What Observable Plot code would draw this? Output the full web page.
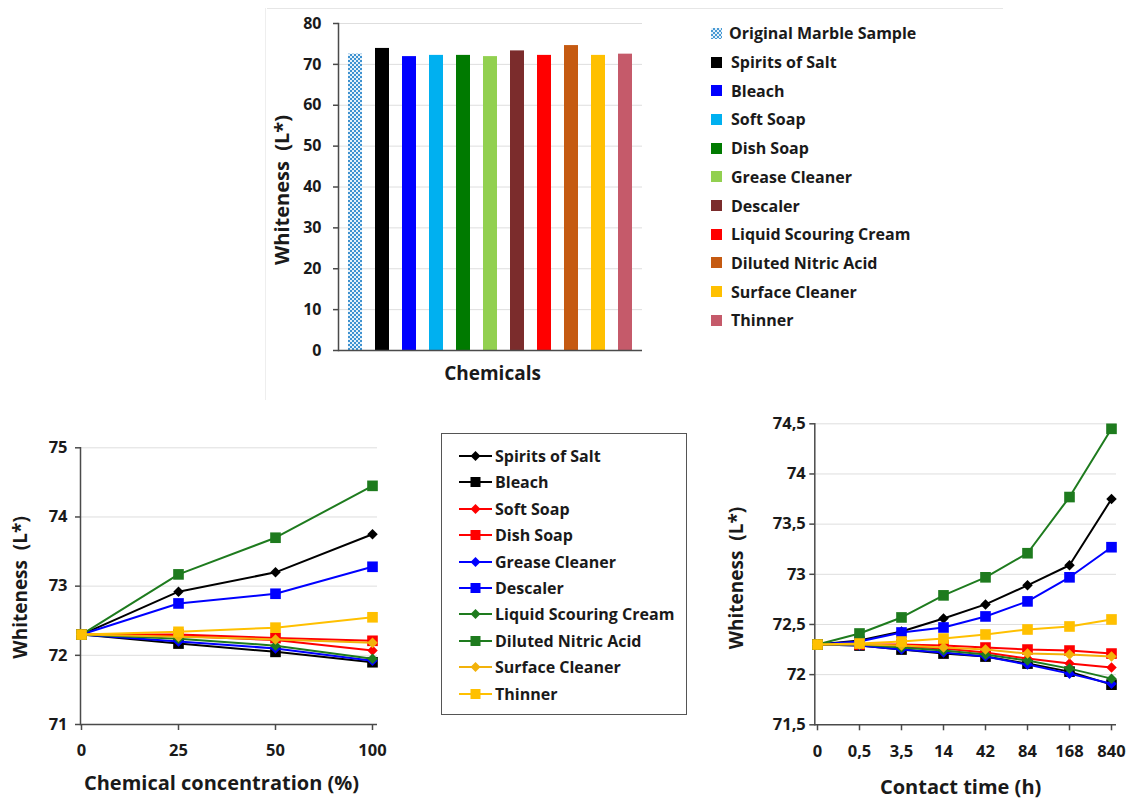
<!DOCTYPE html>
<html>
<head>
<meta charset="utf-8">
<script src="https://cdn.jsdelivr.net/npm/d3@7"></script>
<script src="https://cdn.jsdelivr.net/npm/@observablehq/plot@0.6"></script>
<style>
  html, body { margin: 0; padding: 0; background: #fff; }
  #root { position: relative; width: 1137px; height: 800px; overflow: hidden; background: #fff;
          font-family: "Open Sans", Lato, "DejaVu Sans", sans-serif; color: #1a1a1a; }
  .abs { position: absolute; }
  .leg-row { position: absolute; display: flex; align-items: center; white-space: nowrap;
             font-weight: 700; font-size: 16px; line-height: 1; }
</style>
</head>
<body>
<div id="root"></div>
<script>
// ---------------- DATA ----------------
const barChemicals = ["Original Marble Sample", "Spirits of Salt", "Bleach", "Soft Soap", "Dish Soap",
  "Grease Cleaner", "Descaler", "Liquid Scouring Cream", "Diluted Nitric Acid", "Surface Cleaner", "Thinner"];
const barWhiteness = [72.5, 73.9, 71.9, 72.2, 72.2, 71.9, 73.3, 72.2, 74.6, 72.2, 72.5];
const barColors = ["url(#marble)", "#000000", "#0000ff", "#00b0f0", "#007a00", "#92d050",
  "#7b2c2c", "#ff0000", "#c55a11", "#ffc000", "#c55a6a"];
const barTicks = [0, 10, 20, 30, 40, 50, 60, 70, 80];

const lineSeries = ["Spirits of Salt", "Bleach", "Soft Soap", "Dish Soap", "Grease Cleaner", "Descaler",
  "Liquid Scouring Cream", "Diluted Nitric Acid", "Surface Cleaner", "Thinner"];
const lineColors = ["#000000", "#000000", "#ff0000", "#ff0000", "#0000ff", "#0000ff",
  "#1e7b1e", "#1e7b1e", "#f2b20a", "#ffc000"];
const lineMarkers = ["diamond", "square", "diamond", "square", "diamond", "square",
  "diamond", "square", "diamond", "square"];

const concentrationLabels = ["0", "25", "50", "100"];
const concentrationWhiteness = [
  [72.3, 72.92, 73.2, 73.75],   // Spirits of Salt
  [72.3, 72.17, 72.05, 71.9],   // Bleach
  [72.3, 72.28, 72.22, 72.07],  // Soft Soap
  [72.3, 72.3, 72.25, 72.21],   // Dish Soap
  [72.3, 72.2, 72.1, 71.92],    // Grease Cleaner
  [72.3, 72.75, 72.89, 73.28],  // Descaler
  [72.3, 72.24, 72.14, 71.95],  // Liquid Scouring Cream
  [72.3, 73.17, 73.7, 74.45],   // Diluted Nitric Acid
  [72.3, 72.27, 72.23, 72.18],  // Surface Cleaner
  [72.3, 72.34, 72.4, 72.55]    // Thinner
];
const concentrationTicks = [71, 72, 73, 74, 75];

const timeLabels = ["0", "0,5", "3,5", "14", "42", "84", "168", "840"];
const timeWhiteness = [
  [72.3, 72.34, 72.43, 72.56, 72.7, 72.89, 73.09, 73.75],   // Spirits of Salt
  [72.3, 72.29, 72.25, 72.21, 72.18, 72.11, 72.03, 71.9],   // Bleach
  [72.3, 72.3, 72.28, 72.26, 72.22, 72.16, 72.11, 72.07],   // Soft Soap
  [72.3, 72.3, 72.3, 72.29, 72.27, 72.25, 72.24, 72.21],    // Dish Soap
  [72.3, 72.29, 72.25, 72.22, 72.18, 72.1, 72.01, 71.91],   // Grease Cleaner
  [72.3, 72.33, 72.42, 72.47, 72.58, 72.73, 72.97, 73.27],  // Descaler
  [72.3, 72.3, 72.27, 72.24, 72.2, 72.14, 72.06, 71.96],    // Liquid Scouring Cream
  [72.3, 72.41, 72.57, 72.79, 72.97, 73.21, 73.77, 74.45],  // Diluted Nitric Acid
  [72.3, 72.3, 72.29, 72.27, 72.25, 72.21, 72.2, 72.18],    // Surface Cleaner
  [72.3, 72.31, 72.33, 72.36, 72.4, 72.45, 72.48, 72.55]    // Thinner
];
const timeTicks = [71.5, 72, 72.5, 73, 73.5, 74, 74.5];

// ---------------- STYLE ----------------
const FONT = "'Open Sans', Lato, 'DejaVu Sans', sans-serif";
const TEXT = "#1a1a1a";
const AXIS = "#4a4a4a";
const GRID = "#dedede";

const diamondSymbol = {
  draw(ctx, size) {
    const s = Math.sqrt(size / 2);
    ctx.moveTo(0, -s); ctx.lineTo(s, 0); ctx.lineTo(0, s); ctx.lineTo(-s, 0); ctx.closePath();
  }
};

const root = document.getElementById("root");

function place(node, left, top) {
  node.classList.add("abs");
  node.style.left = left + "px";
  node.style.top = top + "px";
  root.appendChild(node);
  return node;
}

// faint frame lines of the top panel
function faintLine(left, top, w, h, color) {
  const d = document.createElement("div");
  d.style.width = w + "px"; d.style.height = h + "px"; d.style.background = color;
  place(d, left, top);
}
faintLine(267, 8, 736, 1, "#e6e6e6");
faintLine(265, 8, 1, 392, "#eeeeee");

// ---------------- BAR CHART ----------------
const barRows = barChemicals.map((name, i) => ({name, value: barWhiteness[i], color: barColors[i]}));
const barPlot = Plot.plot({
  width: 420, height: 400,
  marginLeft: 78, marginRight: 38, marginTop: 23, marginBottom: 50,
  style: {fontFamily: FONT, background: "transparent", overflow: "visible"},
  x: {domain: barChemicals, paddingInner: 0.48, paddingOuter: 0.24, insetLeft: 3.4, insetRight: 2.4, axis: null},
  y: {domain: [0, 80]},
  color: {type: "identity"},
  marks: [
    Plot.gridY(barTicks.slice(1), {stroke: GRID, strokeOpacity: 1}),
    Plot.barY(barRows, {x: "name", y: "value", fill: "color"}),
    Plot.ruleY([0], {stroke: AXIS, strokeWidth: 1.5}),
    Plot.frame({anchor: "left", stroke: AXIS, strokeWidth: 1.5}),
    Plot.axisY({ticks: barTicks, tickSize: 5, tickPadding: 12, stroke: AXIS, strokeWidth: 1.5,
      fill: TEXT, fontSize: 16, fontWeight: 700, label: null}),
    Plot.text(["Chemicals"], {text: d => d, frameAnchor: "bottom", dx: 2, dy: 23,
      textAnchor: "middle", lineAnchor: "middle", fontSize: 19, fontWeight: 700, fill: TEXT}),
    Plot.text(["Whiteness  (L*)"], {text: d => d, frameAnchor: "left", dx: -56, dy: 3, rotate: -90,
      textAnchor: "middle", lineAnchor: "middle", fontSize: 20, fontWeight: 700, fill: TEXT})
  ]
});
d3.select(barPlot).insert("defs", ":first-child").html(
  `<pattern id="marble" width="4" height="4" patternUnits="userSpaceOnUse">
     <rect width="4" height="4" fill="#e4f1fa"></rect>
     <rect width="2" height="2" fill="#3f92d0"></rect>
     <rect x="2" y="2" width="2" height="2" fill="#3f92d0"></rect>
   </pattern>`);
place(barPlot, 260, 0);

// ---------------- TOP LEGEND ----------------
barChemicals.forEach((name, i) => {
  const row = document.createElement("div");
  row.className = "leg-row";
  const sw = document.createElement("span");
  sw.style.cssText = "display:inline-block;width:11px;height:11px;margin-right:" + (i === 0 ? 7 : 9) + "px;";
  if (i === 0) {
    sw.style.background = "repeating-conic-gradient(#4a9ad4 0 25%, #e4f1fa 0 50%) 0 0 / 4px 4px";
  } else {
    sw.style.background = barColors[i];
  }
  row.appendChild(sw);
  const t = document.createElement("span");
  t.textContent = name;
  row.appendChild(t);
  place(row, 711, 33.3 + i * 28.7 - 8);
});

// ---------------- LINE CHARTS ----------------
function lineChart(o) {
  const marks = [
    Plot.gridY(o.yTicks.slice(1), {stroke: GRID, strokeOpacity: 1}),
    Plot.ruleY([o.yTicks[0]], {stroke: AXIS, strokeWidth: 1.5}),
    Plot.frame({anchor: "left", stroke: AXIS, strokeWidth: 1.5}),
    Plot.axisY({ticks: o.yTicks, tickSize: 5, tickPadding: o.tickPadY, tickFormat: o.yFormat,
      stroke: AXIS, strokeWidth: 1.5, fill: TEXT, fontSize: 16.5, fontWeight: 700, label: null}),
    Plot.axisX({tickSize: 6, tickPadding: 14, stroke: AXIS, strokeWidth: 1.5,
      fill: TEXT, fontSize: 16.5, fontWeight: 700, label: null})
  ];
  lineSeries.forEach((s, i) => {
    const rows = o.xLabels.map((x, j) => ({x, y: o.values[i][j]}));
    const isDiamond = lineMarkers[i] === "diamond";
    marks.push(Plot.line(rows, {x: "x", y: "y", stroke: lineColors[i], strokeWidth: 2}));
    marks.push(Plot.dot(rows, {x: "x", y: "y", fill: lineColors[i], stroke: "none",
      symbol: isDiamond ? diamondSymbol : "square", r: isDiamond ? 4.2 : 6}));
  });
  marks.push(Plot.text([o.xTitle], {text: d => d, frameAnchor: "bottom", dx: o.xTitleDx, dy: o.xTitleDy,
    textAnchor: "middle", lineAnchor: "middle", fontSize: 20, fontWeight: 700, fill: TEXT}));
  marks.push(Plot.text(["Whiteness  (L*)"], {text: d => d, frameAnchor: "left", dx: o.yTitleDx, dy: o.yTitleDy,
    rotate: -90, textAnchor: "middle", lineAnchor: "middle", fontSize: 19, fontWeight: 700, fill: TEXT}));
  return Plot.plot({
    width: o.width, height: o.height,
    marginLeft: o.marginLeft, marginRight: o.marginRight, marginTop: o.marginTop, marginBottom: o.marginBottom,
    style: {fontFamily: FONT, background: "transparent", overflow: "visible"},
    x: {type: "point", domain: o.xLabels, padding: 0, insetRight: o.insetRight},
    y: {domain: [o.yTicks[0], o.yTicks[o.yTicks.length - 1]]},
    marks
  });
}

const concPlot = lineChart({
  width: 420, height: 380, marginLeft: 80, marginRight: 43, marginTop: 27.3, marginBottom: 76,
  insetRight: 4, xLabels: concentrationLabels, values: concentrationWhiteness, yTicks: concentrationTicks,
  yFormat: d => String(d), tickPadY: 8,
  xTitle: "Chemical concentration (%)", xTitleDx: -7.5, xTitleDy: 59,
  yTitleDx: -59.3, yTitleDy: 1.3
});
place(concPlot, 0, 420);

const timePlot = lineChart({
  width: 437, height: 390, marginLeft: 114.3, marginRight: 21, marginTop: 13.3, marginBottom: 75.7,
  insetRight: 1.7, xLabels: timeLabels, values: timeWhiteness, yTicks: timeTicks,
  yFormat: d => String(d).replace(".", ","), tickPadY: 4,
  xTitle: "Contact time (h)", xTitleDx: -5, xTitleDy: 62.4,
  yTitleDx: -77.6, yTitleDy: 3.7
});
place(timePlot, 700, 410);

// ---------------- MIDDLE LEGEND ----------------
const box = document.createElement("div");
box.style.cssText = "width:246px;height:282px;border:1.5px solid #555;box-sizing:border-box;background:#fff;";
place(box, 441, 433);
lineSeries.forEach((name, i) => {
  const row = document.createElement("div");
  row.className = "leg-row";
  const c = lineColors[i];
  const marker = lineMarkers[i] === "diamond"
    ? `<path d="M16.5,1 L21.5,6 L16.5,11 L11.5,6 Z" fill="${c}"/>`
    : `<rect x="11.5" y="1" width="10" height="10" fill="${c}"/>`;
  row.innerHTML = `<svg width="33" height="12" style="margin-right:3px;flex:none">
      <line x1="0" y1="6" x2="33" y2="6" stroke="${c}" stroke-width="2"/>${marker}</svg><span>${name}</span>`;
  place(row, 459, 456 + i * 26.4 - 8);
});
</script>
</body>
</html>
